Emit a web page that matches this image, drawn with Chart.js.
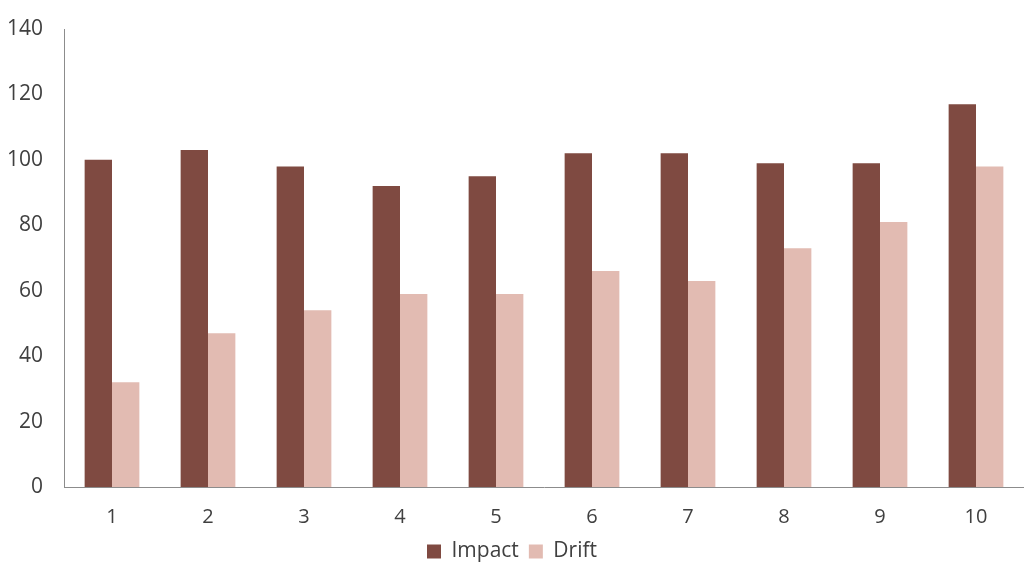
<!DOCTYPE html>
<html>
<head>
<meta charset="utf-8">
<script src="https://cdn.jsdelivr.net/npm/chart.js@4/dist/chart.umd.min.js"></script>
<style>
  html, body { margin: 0; padding: 0; background: #fff; }
  #wrap { width: 1024px; height: 578px; }
</style>
</head>
<body>
<div id="wrap"><canvas id="c"></canvas></div>
<script>
const categories = ["1", "2", "3", "4", "5", "6", "7", "8", "9", "10"];
const impactValues = [100, 103, 98, 92, 95, 102, 102, 99, 99, 117];
const driftValues = [32, 47, 54, 59, 59, 66, 63, 73, 81, 98];

const font = "'Open Sans', 'Noto Sans', sans-serif";

new Chart(document.getElementById("c"), {
  type: "bar",
  data: {
    labels: categories,
    datasets: [
      { label: "Impact", data: impactValues, backgroundColor: "#7f4a41" },
      { label: "Drift", data: driftValues, backgroundColor: "#e2bbb2" }
    ]
  },
  options: {
    responsive: true,
    maintainAspectRatio: false,
    animation: false,
    layout: { padding: { top: 29, right: 0, bottom: 6, left: 0 } },
    datasets: { bar: { barPercentage: 1, categoryPercentage: 0.57 } },
    scales: {
      x: {
        grid: { display: false, drawTicks: false },
        border: { color: "#8c8c8c", width: 1 },
        ticks: { color: "#404040", font: { family: font, size: 20 }, padding: 18 },
        afterFit: s => { s.height = 44; s.paddingLeft = 0; s.paddingRight = 0; }
      },
      y: {
        min: 0, max: 140,
        grid: { display: false, drawTicks: false },
        border: { color: "#8c8c8c", width: 1 },
        ticks: { stepSize: 20, color: "#404040", font: { family: font, size: 21 }, padding: 21 },
        afterFit: s => { s.width = 64; s.paddingTop = 0; s.paddingBottom = 0; }
      }
    },
    plugins: {
      legend: {
        position: "bottom",
        labels: {
          color: "#404040",
          font: { family: font, size: 21 },
          boxWidth: 14, boxHeight: 14, padding: 10
        }
      },
      tooltip: { enabled: false }
    }
  }
});
</script>
</body>
</html>
